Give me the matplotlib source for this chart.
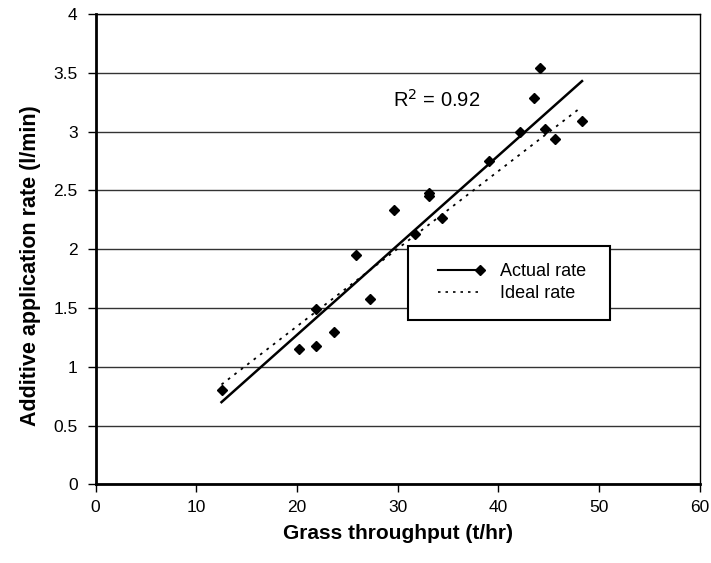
import matplotlib
matplotlib.use("Agg")
import matplotlib.pyplot as plt
from matplotlib.lines import Line2D
from matplotlib.patches import Rectangle
from matplotlib.legend_handler import HandlerLine2D

plt.rcParams['font.family'] = ['Liberation Sans', 'DejaVu Sans']

# measured points (grass throughput t/hr, additive rate l/min)
throughput = [12.5, 20.2, 21.9, 21.9, 23.7, 25.9, 27.2, 29.6, 31.7, 33.1, 33.1,
              34.4, 39.1, 42.1, 43.5, 44.1, 44.6, 45.6, 48.3]
rate = [0.80, 1.15, 1.18, 1.49, 1.30, 1.95, 1.58, 2.33, 2.13, 2.48, 2.45,
        2.27, 2.75, 3.00, 3.29, 3.54, 3.02, 2.94, 3.09]

# trend line of actual rate, and ideal rate line
fit_x = [12.5, 48.3]
fit_y = [0.70, 3.43]
ideal_x = [12.5, 48.1]
ideal_y = [0.85, 3.20]

r2_text = "R$^2$ = 0.92"
series_names = ["Actual rate", "Ideal rate"]


class LineThenMarker(HandlerLine2D):
    # excel style legend key: line on the left, marker at the right end
    def create_artists(self, legend, orig_handle, xdescent, ydescent,
                       width, height, fontsize, trans):
        y = (height - ydescent) / 2
        ln = Line2D([-xdescent, width - xdescent], [y, y], markevery=[1])
        self.update_prop(ln, orig_handle, legend)
        ln.set_transform(trans)
        return [ln]


fig = plt.figure(figsize=(7.11, 5.63), dpi=100)
ax = fig.add_axes([0.1345, 0.1395, 0.8498, 0.8355])

ax.plot(fit_x, fit_y, color='black', lw=1.8, zorder=3)
ax.plot(ideal_x, ideal_y, color='black', lw=1.3, ls=(0, (1.5, 3)), zorder=3)
ax.plot(throughput, rate, ls='none', marker='D', ms=5.5, color='black', zorder=4)

ax.set_xlim(0, 60)
ax.set_ylim(0, 4)
ax.set_xticks(range(0, 61, 10))
ax.set_yticks([0, 0.5, 1, 1.5, 2, 2.5, 3, 3.5, 4])
ax.set_yticklabels(['0', '0.5', '1', '1.5', '2', '2.5', '3', '3.5', '4'])
ax.yaxis.grid(True, color='#333333', lw=1.0)
ax.set_axisbelow(True)
ax.tick_params(direction='out', length=6, width=1, labelsize=12.5, pad=5)
ax.tick_params(axis='y', pad=7)
for s in ax.spines.values():
    s.set_linewidth(1.0)
ax.spines['left'].set_linewidth(2.0)
ax.spines['bottom'].set_linewidth(2.0)

ax.set_xlabel("Grass throughput (t/hr)", fontsize=15, fontweight='bold')
ax.xaxis.set_label_coords(0.5, -0.085)
ax.set_ylabel("Additive application rate (l/min)", fontsize=15.5, fontweight='bold')
ax.yaxis.set_label_coords(-0.09, 0.465)

ax.text(29.5, 3.21, r2_text, fontsize=14.5, ha='left', va='baseline')

# legend box (white, black border) with the keys centred in it
box = Rectangle((0.5166, 0.350), 0.3348, 0.158, transform=ax.transAxes,
                facecolor='white', edgecolor='black', lw=1.5, zorder=4.5)
ax.add_patch(box)
h_actual = Line2D([], [], color='black', lw=1.5, marker='D', ms=5.5)
h_ideal = Line2D([], [], color='black', lw=1.2, ls=(0, (1.5, 3)))
leg = ax.legend([h_actual, h_ideal], series_names,
                handler_map={h_actual: LineThenMarker()},
                loc='center', bbox_to_anchor=(0.689, 0.429),
                fontsize=13, frameon=False, handlelength=2.3,
                borderpad=0.0, labelspacing=0.3, handletextpad=1.1)
leg.set_zorder(5)

fig.savefig("out.png", dpi=100)
